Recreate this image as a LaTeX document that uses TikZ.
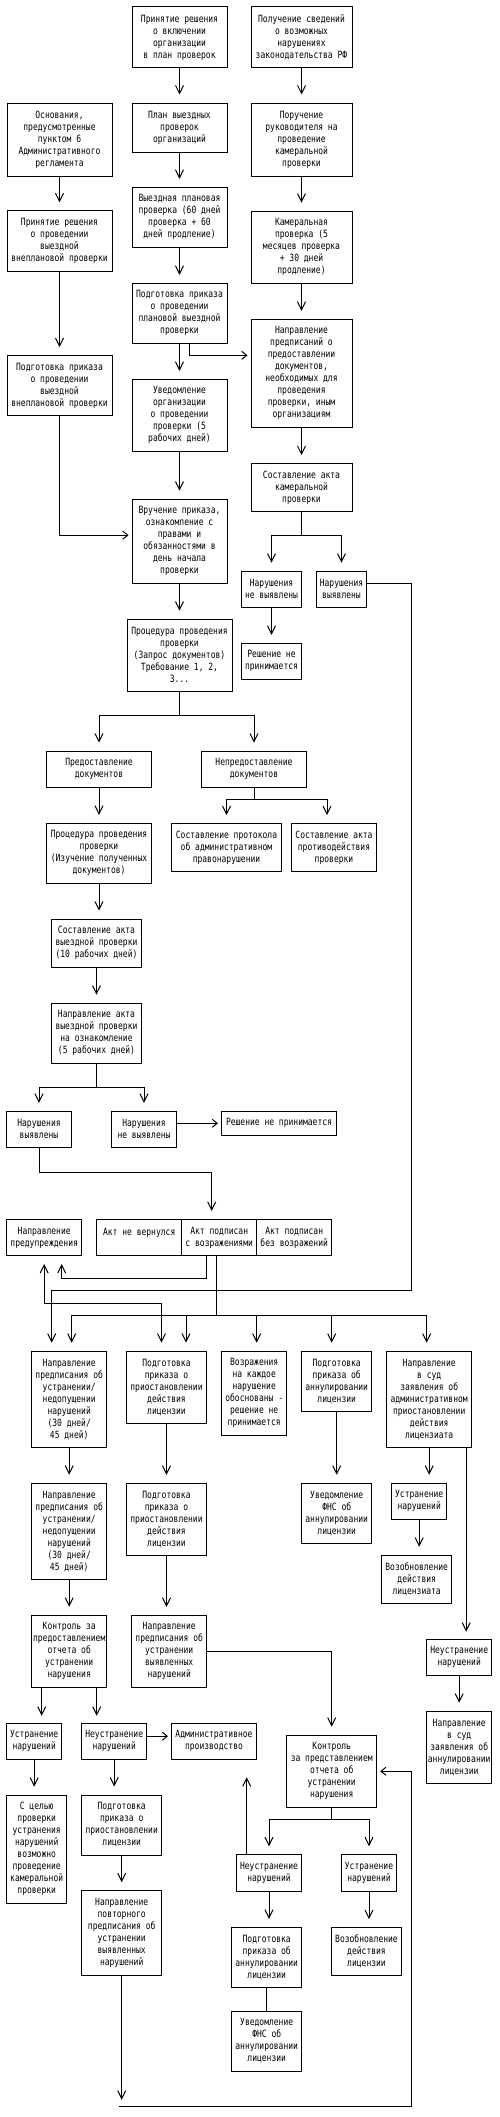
\documentclass[tikz,border=0pt]{standalone}
\usepackage{fontspec}
\newfontfamily\pix[FakeStretch=0.8]{DejaVu Sans Mono}
\usetikzlibrary{arrows.meta}

\begin{document}
\begin{tikzpicture}[
  x=1pt, y=-1pt, line width=1pt,
  font=\pix\fontsize{10}{12}\selectfont,
  >={Straight Barb[length=8pt,width=8pt]},
  box/.style={draw,align=center,inner sep=1pt},
  sz/.style 2 args={minimum width=#1pt,minimum height=#2pt},
  flow/.style={->,shorten >=8pt},
  side/.style={-{Straight Barb[length=5pt,width=8pt]},shorten >=3pt},
]
\useasboundingbox (0,0) rectangle (499,2117);
% planned inspection
\node[box,sz={95}{61}]  (a1) at (179.5,37.5)  {Принятие решения\\о включении\\организации\\в план проверок};
\node[box,sz={95}{49}]  (a2) at (179.5,127.5) {План выездных\\проверок\\организаций};
\node[box,sz={95}{60}]  (a3) at (179.5,217.3) {Выездная плановая\\проверка (60 дней\\проверка + 60\\дней продление)};
\node[box,sz={95}{60}]  (a4) at (179.5,313.3) {Подготовка приказа\\о проведении\\плановой выездной\\проверки};
\node[box,sz={95}{72}]  (a5) at (179.5,415.3) {Уведомление\\организации\\о проведении\\проверки (5\\рабочих дней)};
\node[box,sz={95}{84}]  (a6) at (179.5,541.2) {Вручение приказа,\\ознакомление с\\правами и\\обязанностями в\\день начала\\проверки};
\node[box,sz={105}{72}] (a7) at (179.5,655.2) {Процедура проведения\\проверки\\(Запрос документов)\\Требование 1, 2,\\3...};
% cameral inspection
\node[box,sz={101}{61}]  (b1) at (301.5,37.5)  {Получение сведений\\о возможных\\нарушениях\\законодательства РФ};
\node[box,sz={101}{73}]  (b2) at (301.5,139.5) {Поручение\\руководителя на\\проведение\\камеральной\\проверки};
\node[box,sz={101}{72}]  (b3) at (301.5,247.2) {Камеральная\\проверка (5\\месяцев проверка\\+ 30 дней\\продление)};
\node[box,sz={101}{108}] (b4) at (301.5,373.3) {Направление\\предписаний о\\предоставлении\\документов,\\необходимых для\\проведения\\проверки, иным\\организациям};
\node[box,sz={101}{48}]  (b5) at (301.5,487.5) {Составление акта\\камеральной\\проверки};
\node[box,sz={60}{36}]   (b6) at (271.5,589.2) {Нарушения\\не выявлены};
\node[box,sz={50}{36}]   (b7) at (341.5,589.2) {Нарушения\\выявлены};
\node[box,sz={60}{36}]   (b8) at (271.5,661.3) {Решение не\\принимается};
% unplanned inspection
\node[box,sz={105}{73}] (u1) at (59.5,139.5) {Основания,\\предусмотренные\\пунктом 6\\Административного\\регламента};
\node[box,sz={105}{61}] (u2) at (59.5,241.3) {Принятие решения\\о проведении\\выездной\\внеплановой проверки};
\node[box,sz={105}{60}] (u3) at (59.5,385.5) {Подготовка приказа\\о проведении\\выездной\\внеплановой проверки};
% documents
\node[box,sz={105}{36}] (d1) at (99,769.2)    {Предоставление\\документов};
\node[box,sz={105}{36}] (d2) at (254,769.2)   {Непредоставление\\документов};
\node[box,sz={105}{60}] (d3) at (99,853.3)    {Процедура проведения\\проверки\\(Изучение полученных\\документов)};
\node[box,sz={110}{48}] (d4) at (226.5,847.5) {Составление протокола\\об административном\\правонарушении};
\node[box,sz={85}{48}]  (d5) at (334,847.5)   {Составление акта\\противодействия\\проверки};
\node[box,sz={90}{48}]  (d6) at (96.5,943.2)  {Составление акта\\выездной проверки\\(10 рабочих дней)};
\node[box,sz={90}{60}]  (d7) at (96.5,1033.2) {Направление акта\\выездной проверки\\на ознакомление\\(5 рабочих дней)};
\node[box,sz={65}{36}]  (e1) at (39,1129.3)   {Нарушения\\выявлены};
\node[box,sz={65}{36}]  (e2) at (144,1129.3)  {Нарушения\\не выявлены};
\node[box,sz={115}{24}] (e3) at (279,1123.3)  {Решение не принимается};
% act results
\node[box,sz={75}{36}] (w)  at (44.2,1237.5)  {Направление\\предупреждения};
\node[box,sz={85}{36}] (f1) at (139.2,1237.5) {Акт не вернулся\\~};
\node[box,sz={75}{36}] (f2) at (219.2,1237.5) {Акт подписан\\с возражениями};
\node[box,sz={75}{36}] (f3) at (294.2,1237.5) {Акт подписан\\без возражений};
% measures
\node[box,sz={75}{96}] (g1) at (69.2,1399.2)  {Направление\\предписания об\\устранении/\\недопущении\\нарушений\\(30 дней/\\45 дней)};
\node[box,sz={80}{72}] (g2) at (166.5,1387.2) {Подготовка\\приказа о\\приостановлении\\действия\\лицензии};
\node[box,sz={65}{84}] (g3) at (254.2,1393.2) {Возражения\\на каждое\\нарушение\\обоснованы -\\решение не\\принимается};
\node[box,sz={70}{60}] (g4) at (336.7,1381.3) {Подготовка\\приказа об\\аннулировании\\лицензии};
\node[box,sz={85}{96}] (g5) at (429.2,1399.2) {Направление\\в суд\\заявления об\\административном\\приостановлении\\действия\\лицензиата};
\node[box,sz={75}{96}] (h1) at (69.2,1531.2)  {Направление\\предписания об\\устранении/\\недопущении\\нарушений\\(30 дней/\\45 дней)};
\node[box,sz={80}{72}] (h2) at (166.5,1519.3) {Подготовка\\приказа о\\приостановлении\\действия\\лицензии};
\node[box,sz={70}{60}] (h4) at (336.7,1513.3) {Уведомление\\ФНС об\\аннулировании\\лицензии};
\node[box,sz={55}{36}] (h5) at (419.2,1501.3) {Устранение\\нарушений};
\node[box,sz={70}{48}] (h6) at (416.7,1579.3) {Возобновление\\действия\\лицензиата};
\node[box,sz={75}{72}] (i1) at (69.2,1651.3)  {Контроль за\\предоставлением\\отчета об\\устранении\\нарушения};
\node[box,sz={75}{72}] (i2) at (169.2,1651.3) {Направление\\предписания об\\устранении\\выявленных\\нарушений};
\node[box,sz={65}{36}] (i5) at (459.2,1657.2) {Неустранение\\нарушений};
\node[box,sz={65}{72}] (j5) at (459.2,1747.2) {Направление\\в суд\\заявления об\\аннулировании\\лицензии};
% control of the report
\node[box,sz={55}{36}]  (j1)  at (34.2,1741.2)  {Устранение\\нарушений};
\node[box,sz={65}{36}]  (j2)  at (114.2,1741.2) {Неустранение\\нарушений};
\node[box,sz={85}{36}]  (adm) at (214,1741.2)   {Административное\\производство};
\node[box,sz={90}{72}]  (ctl) at (331.7,1771.2) {Контроль\\за представлением\\отчета об\\устранении\\нарушения};
\node[box,sz={60}{108}] (k1)  at (36.7,1849.2)  {С целью\\проверки\\устранения\\нарушений\\возможно\\проведение\\камеральной\\проверки};
\node[box,sz={80}{60}]  (k2)  at (121.7,1825)   {Подготовка\\приказа о\\приостановлении\\лицензии};
\node[box,sz={80}{85}]  (rep) at (121.7,1933.3) {Направление\\повторного\\предписания об\\устранении\\выявленных\\нарушений};
\node[box,sz={65}{37}]  (k3)  at (269,1873.3)   {Неустранение\\нарушений};
\node[box,sz={55}{37}]  (k4)  at (369,1873.3)   {Устранение\\нарушений};
\node[box,sz={70}{60}]  (ann) at (266.7,1957.3) {Подготовка\\приказа об\\аннулировании\\лицензии};
\node[box,sz={70}{48}]  (ren) at (366.5,1951.5) {Возобновление\\действия\\лицензии};
\node[box,sz={70}{60}]  (fns) at (266.7,2041)   {Уведомление\\ФНС об\\аннулировании\\лицензии};
% straight steps
\foreach \s/\t in {a1/a2,a2/a3,a3/a4,a4/a5,a5/a6,a6/a7,b1/b2,b2/b3,b3/b4,b4/b5,b6/b8,
  u1/u2,u2/u3,d1/d3,d3/d6,d6/d7,g1/h1,g2/h2,g4/h4,g5/h5,h5/h6,h1/i1,h2/i2,i5/j5,
  j1/k1,j2/k2,k2/rep,k3/ann,k4/ren}
  \draw[flow] (\s.south) -- (\s.south |- \t.north);
\draw (ann) -- (fns);
% branches
\draw[side] ([xshift=10pt]a4.south) |- ([yshift=18pt]b4.west);
\draw[side] (u3.south) |- ([yshift=6pt]a6.west);
\foreach \t in {b6,b7}{\draw[flow] (b5.south) -- ++(0,23.5) -| (\t.north);}
\foreach \t in {d1,d2}{\draw[flow] (a7.south) -- ++(0,24) -| (\t.north);}
\draw[flow] (d2.south) -- ++(0,12) -| (d4.north);
\draw[flow] (d2.south) -- ++(0,12) -| ([xshift=-7pt]d5.north);
\foreach \t in {e1,e2}{\draw[flow] (d7.south) -- ++(0,24) -| (\t.north);}
\draw[side] ([yshift=6pt]e2.east) -- (e3.west);
\draw[flow] (e1.south) -- ++(0,24.4) -| ([xshift=-7.5pt]f2.north);
\draw[flow] ([yshift=6pt]b7.east) -| (411.7,1290) -| ([xshift=-17.5pt]g1.north);
% after the act
\draw[flow] ([xshift=-12.5pt]f2.south) -- ++(0,22.6) -| ([xshift=17.5pt]w.south);
\draw[flow,<->,shorten <=8pt] (w.south) -- ++(0,47.6) -| ([xshift=-5pt]g2.north);
\draw ([xshift=-2.5pt]f2.south) -- ++(0,59.3) coordinate (bus);
\foreach \t/\dx in {g1/2.5,g2/19.5,g3/2.5,g4/-5,g5/-2.5}
  \draw[flow] (bus) -| ([xshift=\dx pt]\t.north);
\draw[flow] ([xshift=37pt]g5.south) -- ++(0,192);
\draw[flow] (i2.east) -| (ctl.north);
\draw[flow] ([xshift=-27.5pt]i1.south) -- ++(0,36);
\draw[flow] ([xshift=27.5pt]i1.south) -- ++(0,36);
\draw[side] ([yshift=5pt]j2.east) -- ([yshift=5pt]adm.west);
\draw[flow,shorten >=19pt] ([xshift=-22.3pt]k3.north) -- ++(0,-96);
\foreach \t in {k3,k4}{\draw[flow] (ctl.south) -- ++(0,12) -| (\t.north);}
% back to the control
\coordinate (lpl) at (119.3,2106.7);
\coordinate (lpr) at (411.7,2106.7);
\draw[flow,shorten >=7pt] (rep.south) -- (rep.south |- lpl);
\draw[side] (lpl) -- (lpr) |- (ctl.east);
\end{tikzpicture}
\end{document}
